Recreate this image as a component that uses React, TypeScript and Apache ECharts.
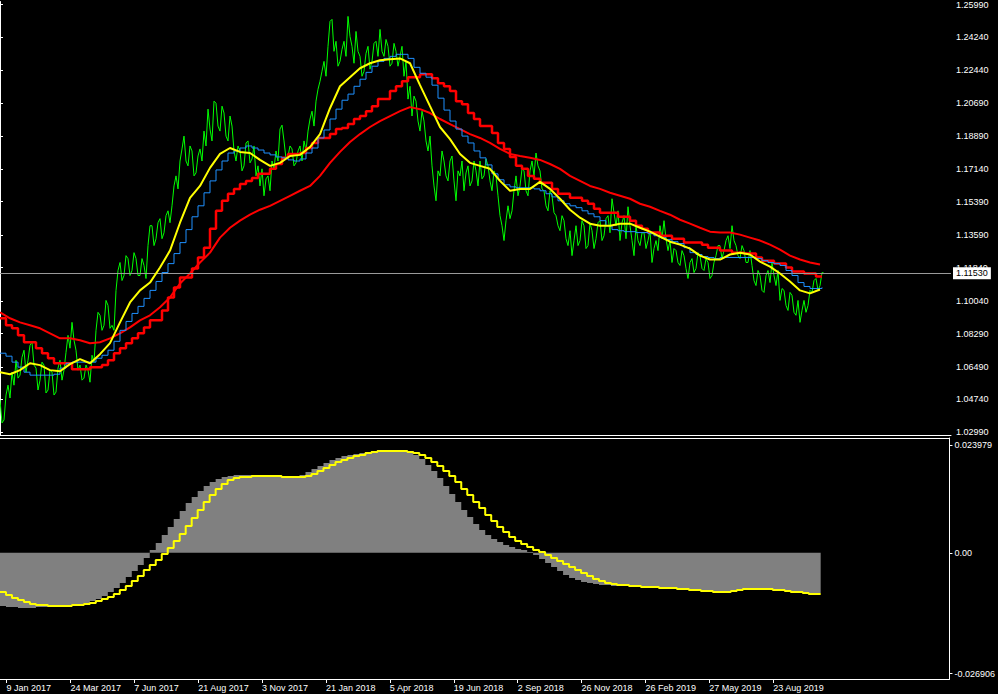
import React, { useEffect, useRef } from "react";
import * as echarts from "echarts";

// x positions: one unit = one chart column; samples are taken at these steps
const CLOSE_STEP = 2;
const WEEK_STEP = 6;
const MA_STEP = 10;

const closePrices = [
  1.0471, 1.0348, 1.0364, 1.0498, 1.0551, 1.0482, 1.0621, 1.0551, 1.0685, 1.0589,
  1.0605, 1.0701, 1.0739, 1.0621, 1.0685, 1.0766, 1.0782, 1.0659, 1.0643, 1.0525,
  1.0578, 1.0675, 1.0659, 1.0509, 1.0525, 1.0632, 1.0621, 1.0498, 1.0514, 1.0643,
  1.0685, 1.0578, 1.0632, 1.0728, 1.0819, 1.0750, 1.0889, 1.0793, 1.0739, 1.0632,
  1.0659, 1.0578, 1.0589, 1.0659, 1.0632, 1.0567, 1.0712, 1.0675, 1.0846, 1.0943,
  1.0927, 1.0846, 1.0873, 1.1007, 1.0980, 1.0857, 1.0873, 1.0846, 1.1061, 1.1168,
  1.1211, 1.1114, 1.1141, 1.1248, 1.1232, 1.1141, 1.1168, 1.1264, 1.1232, 1.1141,
  1.1141, 1.1232, 1.1195, 1.1125, 1.1302, 1.1409, 1.1409, 1.1302, 1.1339, 1.1425,
  1.1447, 1.1339, 1.1371, 1.1463, 1.1489, 1.1425, 1.1516, 1.1623, 1.1677, 1.1607,
  1.1757, 1.1822, 1.1891, 1.1757, 1.1731, 1.1838, 1.1811, 1.1677, 1.1693, 1.1784,
  1.1822, 1.1757, 1.1918, 1.1838, 1.2036, 1.1929, 1.1865, 1.2079, 1.2068, 1.1945,
  1.1918, 1.2052, 1.2015, 1.1891, 1.1865, 1.1999, 1.1945, 1.1811, 1.1757, 1.1838,
  1.1811, 1.1704, 1.1731, 1.1854, 1.1865, 1.1747, 1.1768, 1.1838, 1.1677, 1.1731,
  1.1623, 1.1715, 1.1570, 1.1661, 1.1677, 1.1597, 1.1757, 1.1715, 1.1811, 1.1757,
  1.1929, 1.1950, 1.1865, 1.1768, 1.1784, 1.1838, 1.1822, 1.1731, 1.1747, 1.1811,
  1.1838, 1.1757, 1.1865, 1.1811, 1.1918, 1.1983, 1.2025, 1.1945, 1.2079, 1.2143,
  1.2186, 1.2240, 1.2293, 1.2213, 1.2374, 1.2508, 1.2519, 1.2347, 1.2401, 1.2267,
  1.2293, 1.2358, 1.2401, 1.2320, 1.2535, 1.2427, 1.2374, 1.2283, 1.2454, 1.2347,
  1.2320, 1.2213, 1.2240, 1.2336, 1.2374, 1.2251, 1.2293, 1.2390, 1.2401, 1.2320,
  1.2465, 1.2347, 1.2320, 1.2411, 1.2374, 1.2267, 1.2283, 1.2390, 1.2347, 1.2267,
  1.2320, 1.2374, 1.2213, 1.2293, 1.2090, 1.2159, 1.1999, 1.2106, 1.2079, 1.1972,
  1.1918, 1.2025, 1.1972, 1.1865, 1.1811, 1.1891, 1.1731, 1.1623, 1.1543, 1.1704,
  1.1677, 1.1811, 1.1757, 1.1677, 1.1650, 1.1757, 1.1784, 1.1650, 1.1543, 1.1704,
  1.1677, 1.1757, 1.1597, 1.1693, 1.1731, 1.1623, 1.1650, 1.1757, 1.1704, 1.1623,
  1.1757, 1.1661, 1.1677, 1.1768, 1.1731, 1.1650, 1.1597, 1.1704, 1.1677, 1.1570,
  1.1463, 1.1409, 1.1329, 1.1436, 1.1516, 1.1447, 1.1489, 1.1597, 1.1677, 1.1570,
  1.1623, 1.1715, 1.1704, 1.1597, 1.1570, 1.1704, 1.1757, 1.1677, 1.1800, 1.1731,
  1.1704, 1.1607, 1.1597, 1.1516, 1.1489, 1.1597, 1.1570, 1.1479, 1.1463, 1.1409,
  1.1382, 1.1463, 1.1436, 1.1339, 1.1302, 1.1382, 1.1248, 1.1329, 1.1409, 1.1302,
  1.1329, 1.1436, 1.1409, 1.1286, 1.1302, 1.1425, 1.1382, 1.1286, 1.1339, 1.1425,
  1.1436, 1.1329, 1.1355, 1.1447, 1.1463, 1.1371, 1.1554, 1.1479, 1.1409, 1.1489,
  1.1329, 1.1425, 1.1463, 1.1339, 1.1511, 1.1409, 1.1329, 1.1248, 1.1409, 1.1329,
  1.1302, 1.1371, 1.1371, 1.1286, 1.1329, 1.1382, 1.1211, 1.1286, 1.1329, 1.1275,
  1.1409, 1.1339, 1.1436, 1.1339, 1.1275, 1.1329, 1.1211, 1.1286, 1.1275, 1.1211,
  1.1195, 1.1275, 1.1248, 1.1179, 1.1125, 1.1211, 1.1232, 1.1157, 1.1179, 1.1264,
  1.1248, 1.1179, 1.1168, 1.1232, 1.1211, 1.1125, 1.1141, 1.1211, 1.1248, 1.1302,
  1.1302, 1.1232, 1.1275, 1.1329, 1.1355, 1.1286, 1.1409, 1.1329, 1.1302, 1.1248,
  1.1232, 1.1302, 1.1275, 1.1211, 1.1211, 1.1275, 1.1195, 1.1114, 1.1087, 1.1168,
  1.1141, 1.1061, 1.1050, 1.1141, 1.1168, 1.1103, 1.1211, 1.1141, 1.1087, 1.1168,
  1.1007, 1.1071, 1.1061, 1.0980, 1.0953, 1.1050, 1.1034, 1.0943, 1.0927, 1.1007,
  1.0889, 1.0953, 1.1007, 1.0943, 1.0980, 1.1061, 1.1050, 1.1114, 1.1125, 1.1061,
  1.1087, 1.1157, 1.1153,
];

const fastMA = [
  1.0621, 1.0610, 1.0632, 1.0669, 1.0659, 1.0632, 1.0626, 1.0664, 1.0691, 1.0669,
  1.0718, 1.0777, 1.0889, 1.0996, 1.1061, 1.1103, 1.1184, 1.1275, 1.1425, 1.1559,
  1.1623, 1.1720, 1.1795, 1.1827, 1.1806, 1.1800, 1.1763, 1.1731, 1.1747, 1.1784,
  1.1790, 1.1832, 1.1902, 1.2041, 1.2159, 1.2208, 1.2256, 1.2283, 1.2299, 1.2304,
  1.2309, 1.2283, 1.2165, 1.2052, 1.1940, 1.1875, 1.1795, 1.1747, 1.1731, 1.1715,
  1.1650, 1.1597, 1.1607, 1.1607, 1.1645, 1.1607, 1.1554, 1.1495, 1.1452, 1.1420,
  1.1409, 1.1409, 1.1420, 1.1420, 1.1398, 1.1377, 1.1350, 1.1323, 1.1307, 1.1286,
  1.1248, 1.1227, 1.1227, 1.1254, 1.1264, 1.1254, 1.1216, 1.1189, 1.1152, 1.1109,
  1.1061, 1.1045, 1.1066,
];

const slowMA = [
  1.0943, 1.0911, 1.0889, 1.0873, 1.0857, 1.0830, 1.0803, 1.0803, 1.0793, 1.0777,
  1.0782, 1.0803, 1.0830, 1.0862, 1.0900, 1.0927, 1.0970, 1.1023, 1.1098, 1.1152,
  1.1211, 1.1264, 1.1345, 1.1398, 1.1436, 1.1468, 1.1495, 1.1516, 1.1543, 1.1570,
  1.1597, 1.1623, 1.1677, 1.1747, 1.1806, 1.1859, 1.1902, 1.1940, 1.1972, 1.1999,
  1.2025, 1.2047, 1.2036, 1.2015, 1.1983, 1.1956, 1.1929, 1.1902, 1.1881, 1.1854,
  1.1822, 1.1795, 1.1784, 1.1774, 1.1763, 1.1741, 1.1715, 1.1677, 1.1650, 1.1623,
  1.1607, 1.1586, 1.1570, 1.1554, 1.1527, 1.1511, 1.1489, 1.1468, 1.1441, 1.1420,
  1.1398, 1.1377, 1.1372, 1.1372, 1.1361, 1.1345, 1.1329, 1.1307, 1.1280, 1.1248,
  1.1227, 1.1211, 1.1200,
];

const weeklyFastMA = [
  1.0723, 1.0707, 1.0675, 1.0648, 1.0621, 1.0605, 1.0605, 1.0605, 1.0605, 1.0610,
  1.0643, 1.0669, 1.0675, 1.0675, 1.0675, 1.0675, 1.0696, 1.0712, 1.0739, 1.0787,
  1.0846, 1.0894, 1.0937, 1.0975, 1.1018, 1.1061, 1.1109, 1.1157, 1.1205, 1.1259,
  1.1318, 1.1388, 1.1457, 1.1516, 1.1586, 1.1650, 1.1709, 1.1757, 1.1800, 1.1811,
  1.1827, 1.1838, 1.1827, 1.1816, 1.1800, 1.1790, 1.1779, 1.1774, 1.1763, 1.1757,
  1.1768, 1.1800, 1.1827, 1.1881, 1.1924, 1.1983, 1.2036, 1.2084, 1.2117, 1.2159,
  1.2197, 1.2234, 1.2267, 1.2293, 1.2309, 1.2320, 1.2331, 1.2331, 1.2309, 1.2261,
  1.2229, 1.2208, 1.2165, 1.2095, 1.2031, 1.1972, 1.1929, 1.1891, 1.1854, 1.1811,
  1.1774, 1.1736, 1.1688, 1.1656, 1.1629, 1.1618, 1.1613, 1.1613, 1.1613, 1.1607,
  1.1597, 1.1581, 1.1564, 1.1543, 1.1527, 1.1516, 1.1506, 1.1489, 1.1473, 1.1457,
  1.1436, 1.1409, 1.1388, 1.1382, 1.1377, 1.1377, 1.1372, 1.1372, 1.1366, 1.1355,
  1.1345, 1.1334, 1.1323, 1.1313, 1.1291, 1.1264, 1.1254, 1.1243, 1.1238, 1.1232,
  1.1238, 1.1238, 1.1238, 1.1238, 1.1238, 1.1238, 1.1232, 1.1221, 1.1211, 1.1205,
  1.1195, 1.1168, 1.1141, 1.1103, 1.1082, 1.1071, 1.1071, 1.1077,
];

const weeklySlowMA = [
  1.0911, 1.0873, 1.0857, 1.0819, 1.0782, 1.0782, 1.0750, 1.0723, 1.0696, 1.0669,
  1.0669, 1.0669, 1.0637, 1.0637, 1.0637, 1.0648, 1.0648, 1.0659, 1.0685, 1.0723,
  1.0750, 1.0777, 1.0803, 1.0830, 1.0862, 1.0900, 1.0900, 1.0953, 1.1023, 1.1077,
  1.1130, 1.1130, 1.1179, 1.1238, 1.1291, 1.1393, 1.1489, 1.1543, 1.1581, 1.1607,
  1.1634, 1.1650, 1.1666, 1.1688, 1.1688, 1.1715, 1.1741, 1.1774, 1.1795, 1.1795,
  1.1800, 1.1827, 1.1854, 1.1881, 1.1881, 1.1902, 1.1929, 1.1934, 1.1956, 1.1983,
  1.1999, 1.2025, 1.2052, 1.2090, 1.2090, 1.2133, 1.2159, 1.2186, 1.2208, 1.2208,
  1.2224, 1.2224, 1.2202, 1.2176, 1.2159, 1.2133, 1.2079, 1.2063, 1.2015, 1.1983,
  1.1945, 1.1945, 1.1908, 1.1854, 1.1822, 1.1779, 1.1731, 1.1715, 1.1677, 1.1661,
  1.1640, 1.1640, 1.1607, 1.1581, 1.1581, 1.1559, 1.1559, 1.1543, 1.1527, 1.1500,
  1.1479, 1.1479, 1.1479, 1.1457, 1.1457, 1.1436, 1.1409, 1.1393, 1.1372, 1.1372,
  1.1355, 1.1355, 1.1339, 1.1339, 1.1318, 1.1318, 1.1318, 1.1307, 1.1291, 1.1291,
  1.1275, 1.1275, 1.1264, 1.1264, 1.1259, 1.1259, 1.1238, 1.1221, 1.1221, 1.1205,
  1.1205, 1.1184, 1.1162, 1.1162, 1.1152, 1.1152, 1.1136, 1.1136,
];

const macdHist = [
  -0.01184, -0.01206, -0.01206, -0.01228, -0.01228, -0.01228, -0.01206, -0.01206, -0.01206, -0.01184,
  -0.01161, -0.01161, -0.01139, -0.01139, -0.01117, -0.01072, -0.01028, -0.00961, -0.00872, -0.00783,
  -0.00672, -0.00538, -0.00405, -0.00271, -0.00116, 0.00062, 0.00218, 0.00396, 0.00574, 0.00752,
  0.0093, 0.01108, 0.01242, 0.01375, 0.01486, 0.01575, 0.01642, 0.01687, 0.01709, 0.01731,
  0.01731, 0.01731, 0.01731, 0.01731, 0.01709, 0.01709, 0.01709, 0.01709, 0.01709, 0.01709,
  0.01731, 0.01798, 0.01865, 0.01931, 0.01998, 0.02065, 0.02109, 0.02154, 0.02176, 0.02198,
  0.02221, 0.02243, 0.02265, 0.02287, 0.02287, 0.02287, 0.02287, 0.02265, 0.02243, 0.02176,
  0.02087, 0.01954, 0.0182, 0.01664, 0.01486, 0.01308, 0.0113, 0.00952, 0.00797, 0.00641,
  0.00507, 0.00396, 0.00307, 0.0024, 0.00174, 0.00129, 0.00085, 0.00062, 0.00018, -0.00049,
  -0.00138, -0.00227, -0.00316, -0.00405, -0.00494, -0.00561, -0.00605, -0.0065, -0.00672, -0.00694,
  -0.00716, -0.00716, -0.00739, -0.00739, -0.00739, -0.00761, -0.00761, -0.00761, -0.00761, -0.00783,
  -0.00783, -0.00783, -0.00805, -0.00805, -0.00805, -0.00828, -0.00828, -0.0085, -0.0085, -0.00872,
  -0.00872, -0.0085, -0.00828, -0.00805, -0.00805, -0.00805, -0.00805, -0.00805, -0.00805, -0.00828,
  -0.00828, -0.0085, -0.00872, -0.00872, -0.00894, -0.00894, -0.00894, -0.00894,
];

const macdSignal = [
  -0.00872, -0.00939, -0.01006, -0.0105, -0.01095, -0.01139, -0.01161, -0.01161, -0.01184, -0.01184,
  -0.01184, -0.01184, -0.01161, -0.01161, -0.01139, -0.01117, -0.01072, -0.01028, -0.00983, -0.00917,
  -0.00828, -0.00739, -0.00627, -0.00516, -0.00383, -0.00271, -0.0016, -0.00027, 0.00107, 0.00263,
  0.00418, 0.00596, 0.00774, 0.00952, 0.0113, 0.01286, 0.0142, 0.01531, 0.0162, 0.01664,
  0.01687, 0.01687, 0.01709, 0.01709, 0.01709, 0.01709, 0.01709, 0.01687, 0.01687, 0.01687,
  0.01687, 0.01709, 0.01753, 0.0182, 0.01887, 0.01954, 0.0202, 0.02065, 0.02109, 0.02154,
  0.02176, 0.02221, 0.02243, 0.02265, 0.02265, 0.02265, 0.02265, 0.02265, 0.02243, 0.02221,
  0.02176, 0.02109, 0.0202, 0.01931, 0.0182, 0.01709, 0.01575, 0.0142, 0.01286, 0.0113,
  0.00997, 0.00841, 0.00708, 0.00574, 0.00463, 0.00352, 0.00263, 0.00196, 0.00129, 0.00062,
  0.00018, -0.00049, -0.00116, -0.00182, -0.00249, -0.00316, -0.00383, -0.00449, -0.00516, -0.00583,
  -0.00627, -0.00672, -0.00694, -0.00716, -0.00716, -0.00739, -0.00739, -0.00761, -0.00761, -0.00761,
  -0.00783, -0.00783, -0.00783, -0.00805, -0.00805, -0.00828, -0.00828, -0.0085, -0.0085, -0.00872,
  -0.00872, -0.00872, -0.0085, -0.00828, -0.00805, -0.00805, -0.00805, -0.00805, -0.00805, -0.00828,
  -0.00828, -0.0085, -0.00872, -0.00872, -0.00894, -0.00917, -0.00917, -0.00917,
];

const priceTicks = [
  1.2599, 1.2424, 1.2244, 1.2069, 1.1889, 1.1714, 1.1539,
  1.1359, 1.1184, 1.1004, 1.0829, 1.0649, 1.0474, 1.0299,
];
const macdTicks = [0.023979, 0, -0.026906];
const dateTicks = [6.5, 70.5, 134.5, 198.5, 262.5, 326.5, 390.5, 454.5, 518.5, 582.5, 646.5, 710.5, 774.5];
const dateLabels = [
  "9 Jan 2017", "24 Mar 2017", "7 Jun 2017", "21 Aug 2017", "3 Nov 2017",
  "21 Jan 2018", "5 Apr 2018", "19 Jun 2018", "2 Sep 2018", "26 Nov 2018",
  "26 Feb 2019", "27 May 2019", "23 Aug 2019",
];
const lastPrice = 1.1153;

const FONT = "'Liberation Sans', Arial, sans-serif";
const PLOT_W = 951;

function toXY(values: number[], step: number) {
  return values.map((v, i) => [i * step, v]);
}

export default function App() {
  const ref = useRef<HTMLDivElement>(null);

  useEffect(() => {
    document.body.style.margin = "0";
    document.body.style.background = "#000";
    const chart = echarts.init(ref.current!, null, { renderer: "svg" });
    const white = { color: "#ffffff", width: 1 };
    const option: any = {
      animation: false,
      backgroundColor: "#000000",
      grid: [
        { left: 0, top: 0, width: PLOT_W, height: 435 },
        { left: 0, top: 438, width: PLOT_W, height: 241 },
      ],
      xAxis: [
        {
          type: "value", gridIndex: 0, min: 0, max: PLOT_W, position: "bottom",
          axisLine: { show: true, onZero: false, lineStyle: white },
          axisTick: { show: false }, axisLabel: { show: false }, splitLine: { show: false },
        },
        {
          type: "value", gridIndex: 1, min: 0, max: PLOT_W, position: "bottom",
          axisLine: { show: true, onZero: false, lineStyle: white },
          axisTick: { show: true, customValues: dateTicks, length: 4, lineStyle: white },
          axisLabel: {
            customValues: dateTicks,
            formatter: (v: number) => dateLabels[Math.round((v - 6.5) / 64)] ?? "",
            color: "#ffffff", fontSize: 9, fontFamily: FONT, align: "left", margin: 4,
          },
          splitLine: { show: false },
        },
        {
          type: "value", gridIndex: 1, min: 0, max: PLOT_W, position: "top",
          axisLine: { show: true, onZero: false, lineStyle: white },
          axisTick: { show: false }, axisLabel: { show: false }, splitLine: { show: false },
        },
      ],
      yAxis: [
        {
          type: "value", gridIndex: 0, position: "right", min: 1.0283, max: 1.2615,
          axisLine: { show: true, lineStyle: white },
          axisTick: { show: true, customValues: priceTicks, length: 3, lineStyle: white },
          axisLabel: {
            customValues: priceTicks,
            formatter: (v: number) => v.toFixed(5),
            color: "#ffffff", fontSize: 9, fontFamily: FONT, margin: 5,
          },
          splitLine: { show: false },
        },
        {
          type: "value", gridIndex: 1, position: "right", min: -0.02808, max: 0.02554,
          axisLine: { show: true, onZero: false, lineStyle: white },
          axisTick: { show: true, customValues: macdTicks, length: 3, lineStyle: white },
          axisLabel: {
            customValues: macdTicks,
            formatter: (v: number) => (Math.abs(v) < 1e-9 ? "0.00" : v.toFixed(6)),
            color: "#ffffff", fontSize: 9, fontFamily: FONT, margin: 5,
          },
          splitLine: { show: false },
        },
      ],
      series: [
        {
          name: "Close", type: "line", xAxisIndex: 0, yAxisIndex: 0,
          data: toXY(closePrices, CLOSE_STEP), showSymbol: false, symbol: "none",
          lineStyle: { color: "#00ff00", width: 1 }, z: 2,
          markLine: {
            silent: true, symbol: ["none", "none"], precision: 5,
            lineStyle: { color: "#9a9a9a", width: 1, type: "solid" },
            label: {
              show: true, position: "end", formatter: lastPrice.toFixed(5),
              color: "#000000", backgroundColor: "#ffffff", padding: [2, 3, 1, 3],
              fontSize: 9, fontFamily: FONT, distance: 2,
            },
            data: [{ yAxis: lastPrice }],
          },
        },
        {
          name: "Slow MA", type: "line", xAxisIndex: 0, yAxisIndex: 0,
          data: toXY(slowMA, MA_STEP), showSymbol: false, symbol: "none",
          lineStyle: { color: "#ff0000", width: 2 }, z: 3,
        },
        {
          name: "Weekly slow MA", type: "line", xAxisIndex: 0, yAxisIndex: 0, step: "end",
          data: toXY(weeklySlowMA, WEEK_STEP), showSymbol: false, symbol: "none",
          lineStyle: { color: "#ff0000", width: 2.5 }, z: 4,
        },
        {
          name: "Weekly fast MA", type: "line", xAxisIndex: 0, yAxisIndex: 0, step: "end",
          data: toXY(weeklyFastMA, WEEK_STEP), showSymbol: false, symbol: "none",
          lineStyle: { color: "#1e90ff", width: 1 }, z: 5,
        },
        {
          name: "Fast MA", type: "line", xAxisIndex: 0, yAxisIndex: 0,
          data: toXY(fastMA, MA_STEP), showSymbol: false, symbol: "none",
          lineStyle: { color: "#ffff00", width: 2 }, z: 6,
        },
        {
          name: "MACD", type: "line", xAxisIndex: 1, yAxisIndex: 1, step: "end",
          data: toXY(macdHist, WEEK_STEP), showSymbol: false, symbol: "none",
          lineStyle: { width: 0, color: "#808080" },
          areaStyle: { color: "#808080", opacity: 1, origin: 0 }, z: 2,
        },
        {
          name: "Signal", type: "line", xAxisIndex: 1, yAxisIndex: 1, step: "end",
          data: toXY(macdSignal, WEEK_STEP), showSymbol: false, symbol: "none",
          lineStyle: { color: "#ffff00", width: 2 }, z: 3,
        },
      ],
    };
    chart.setOption(option);
    return () => chart.dispose();
  }, []);

  return (
    <div
      ref={ref}
      style={{ position: "fixed", left: 0, top: 0, width: 998, height: 694, background: "#000" }}
    />
  );
}
